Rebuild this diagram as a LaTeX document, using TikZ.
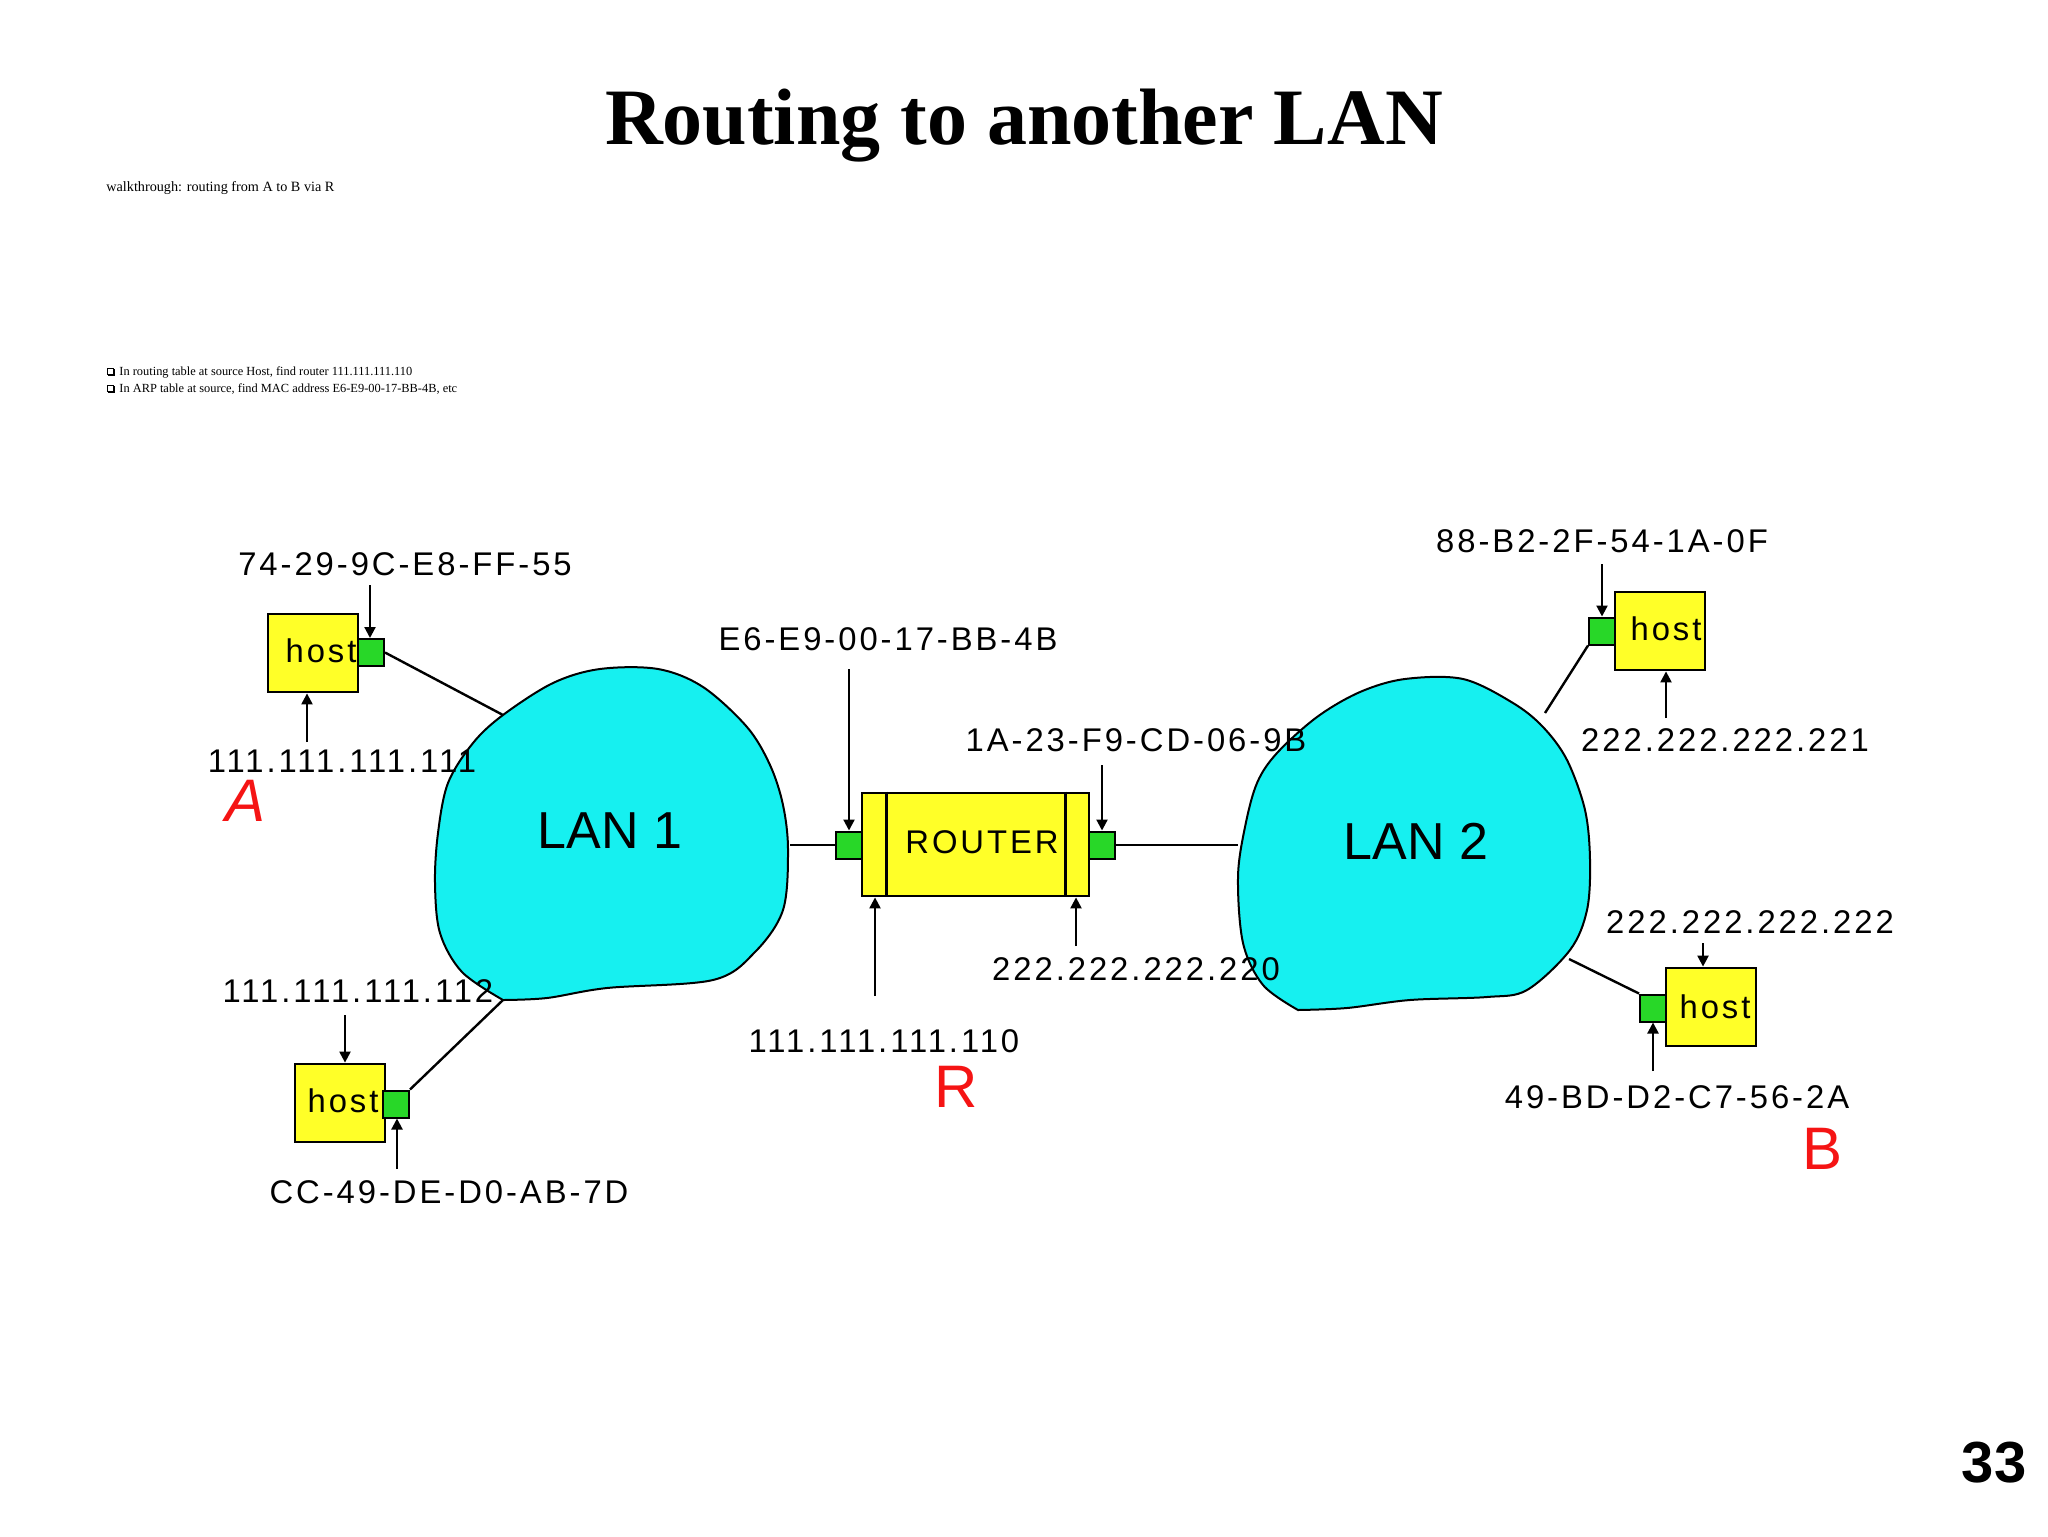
\documentclass[tikz,border=0pt]{standalone}
\usepackage{fontspec}
\setmainfont{Liberation Serif}
\newfontfamily\pixfont[LetterSpace=9]{Liberation Sans}
\newfontfamily\lanfont{Liberation Sans}
\newfontfamily\markfont{Liberation Sans}
\usetikzlibrary{arrows.meta}
\definecolor{lancyan}{RGB}{22,240,240}
\definecolor{hostyellow}{RGB}{255,255,40}
\definecolor{portgreen}{RGB}{40,215,40}
\definecolor{markred}{RGB}{245,20,20}
\tikzset{
  hostbox/.style={draw=black, line width=1.4pt, fill=hostyellow, minimum width=45pt, minimum height=39pt, inner sep=0pt},
  routerbox/.style={draw=black, line width=1.4pt, fill=hostyellow, minimum width=113.5pt, minimum height=51.5pt, inner sep=0pt},
  portbox/.style={draw=black, line width=1pt, fill=portgreen, minimum width=13pt, minimum height=13.5pt, inner sep=0pt},
  lbl/.style={font=\pixfont\fontsize{16.4}{18}\selectfont, inner sep=0pt},
  hosttxt/.style={font=\pixfont\fontsize{16.4}{18}\selectfont, inner sep=0pt},
  lantxt/.style={font=\lanfont\fontsize{26}{28}\selectfont, inner sep=0pt},
  lanblob/.style={draw=black, line width=1pt, fill=lancyan},
  link/.style={line width=1.2pt},
  ptr/.style={line width=1.1pt, -{Triangle[length=5.5pt,width=5.5pt]}},
  redmark/.style={font=\markfont\fontsize{30}{32}\selectfont, text=markred, inner sep=0pt},
  bulletbox/.style={draw=black, line width=0.3pt, minimum size=2.8pt, inner sep=0pt},
}
\begin{document}
\begin{tikzpicture}[x=0.5pt,y=-0.5pt]
\useasboundingbox (0,0) rectangle (2048,1536);
\fill[white] (0,0) rectangle (2048,1536);

% header
\node[anchor=base, inner sep=0pt, font=\bfseries\fontsize{40}{44}\selectfont] (title) at (1024,144) {Routing to another LAN};
\node[anchor=base west, inner sep=0pt, font=\fontsize{7.1}{8}\selectfont] (walk) at (106,191) {walkthrough: routing from A to B via R};
\node[bulletbox] (b1) at (110,371) {};
\draw[line width=0.7pt] ([xshift=0.6pt,yshift=-0.35pt]b1.south west) -- ([xshift=0.35pt,yshift=-0.35pt]b1.south east) -- ([xshift=0.35pt,yshift=-0.6pt]b1.north east);
\node[anchor=base west, inner sep=0pt, font=\fontsize{6.2}{7}\selectfont] (t1) at (119,375) {In routing table at source Host, find router 111.111.111.110};
\node[bulletbox] (b2) at (110,388) {};
\draw[line width=0.7pt] ([xshift=0.6pt,yshift=-0.35pt]b2.south west) -- ([xshift=0.35pt,yshift=-0.35pt]b2.south east) -- ([xshift=0.35pt,yshift=-0.6pt]b2.north east);
\node[anchor=base west, inner sep=0pt, font=\fontsize{6.2}{7}\selectfont] (t2) at (119,392) {In ARP table at source, find MAC address E6-E9-00-17-BB-4B, etc};

\node[font=\lanfont\bfseries\fontsize{29}{30}\selectfont, inner sep=0pt] (pagenum) at (1994,1463) {33};

% LAN blobs (sharp corner at bottom-left)
\draw[lanblob] plot[smooth, tension=0.55] coordinates {(503,1000) (547,998) (607,988) (713,980) (755,952) (783,910) (788,850) (783,805) (770,765) (747,727) (703,687) (658,669) (600,669) (553,683) (503,715) (473,743) (448,783) (438,833) (435,883) (440,933) (462,972) (503,1000)} -- cycle;
\draw[lanblob] plot[smooth, tension=0.55] coordinates {(1298,1010) (1347,1008) (1410,1000) (1487,997) (1527,990) (1570,950) (1587,910) (1590,860) (1585,810) (1567,760) (1543,727) (1513,703) (1463,679) (1405,679) (1360,692) (1317,717) (1277,753) (1257,783) (1245,827) (1238,877) (1243,943) (1263,985) (1298,1010)} -- cycle;
\node[lantxt] (lan1) at (610,831) {LAN 1};
\node[lantxt] (lan2) at (1416,841) {LAN 2};
\coordinate (lan1a) at (503,715);
\coordinate (lan1c) at (503,1000);
\coordinate (lan1r) at (790,845);
\coordinate (lan2l) at (1238,845);
\coordinate (lan2d) at (1545,713);
\coordinate (lan2b) at (1569,959);

% host A (top left)
\node[hostbox] (hostA) at (313,653) {};
\node[hosttxt] (hostAt) at (321,651) {host};
\node[portbox] (portA) at (371,652.5) {};
\draw[link] (portA.east) -- (lan1a);

% host C (bottom left)
\node[hostbox] (hostC) at (340,1103) {};
\node[hosttxt] (hostCt) at (343,1101) {host};
\node[portbox] (portC) at (396,1104) {};
\draw[link] (portC.north east) -- (lan1c);

% router
\node[routerbox] (router) at (975.5,844.5) {};
\draw[line width=1.4pt] ([xshift=13pt]router.north west) -- ([xshift=13pt]router.south west);
\draw[line width=1.4pt] ([xshift=-12.5pt]router.north east) -- ([xshift=-12.5pt]router.south east);
\node[hosttxt] (routert) at (982,842) {ROUTER};
\node[portbox] (portR1) at (849,845) {};
\node[portbox] (portR2) at (1102,845) {};
\draw[link] (lan1r) -- (portR1.west);
\draw[link] (portR2.east) -- (lan2l);

% host D (top right)
\node[hostbox] (hostD) at (1660,631) {};
\node[hosttxt] (hostDt) at (1666,629) {host};
\node[portbox] (portD) at (1602,631) {};
\draw[link] (portD.south west) -- (lan2d);

% host B (bottom right)
\node[hostbox] (hostB) at (1711,1007) {};
\node[hosttxt] (hostBt) at (1715,1007) {host};
\node[portbox] (portB) at (1653,1008) {};
\draw[link] (portB.north west) -- (lan2b);

% labels
\node[lbl] (macA) at (405,564) {74-29-9C-E8-FF-55};
\node[lbl] (ipA) at (342,761) {111.111.111.111};
\node[lbl] (ipC) at (358,991) {111.111.111.112};
\node[lbl] (macC) at (449,1192) {CC-49-DE-D0-AB-7D};
\node[lbl] (macR1) at (888,639) {E6-E9-00-17-BB-4B};
\node[lbl] (macR2) at (1136,740) {1A-23-F9-CD-06-9B};
\node[lbl] (ipR1) at (884,1041) {111.111.111.110};
\node[lbl] (ipR2) at (1136,969) {222.222.222.220};
\node[lbl] (macD) at (1602,541) {88-B2-2F-54-1A-0F};
\node[lbl] (ipD) at (1725,740) {222.222.222.221};
\node[lbl] (ipB) at (1750,922) {222.222.222.222};
\node[lbl] (macB) at (1677,1097) {49-BD-D2-C7-56-2A};

% pointer arrows
\coordinate (pA1) at (370,585);
\coordinate (pA2) at (307,742);
\coordinate (pC1) at (345,1015);
\coordinate (pC2) at (397,1169);
\coordinate (pR1) at (849,669);
\coordinate (pR2) at (1102,765);
\coordinate (pR3) at (875,996);
\coordinate (pR4) at (1076,946);
\coordinate (pD1) at (1602,564);
\coordinate (pD2) at (1666,718);
\coordinate (pB1) at (1703,943);
\coordinate (pB2) at (1653,1071);
\draw[ptr] (pA1) -- (pA1 |- portA.north);
\draw[ptr] (pA2) -- (pA2 |- hostA.south);
\draw[ptr] (pC1) -- (pC1 |- hostC.north);
\draw[ptr] (pC2) -- (pC2 |- portC.south);
\draw[ptr] (pR1) -- (pR1 |- portR1.north);
\draw[ptr] (pR2) -- (pR2 |- portR2.north);
\draw[ptr] (pR3) -- (pR3 |- router.south);
\draw[ptr] (pR4) -- (pR4 |- router.south);
\draw[ptr] (pD1) -- (pD1 |- portD.north);
\draw[ptr] (pD2) -- (pD2 |- hostD.south);
\draw[ptr] (pB1) -- (pB1 |- hostB.north);
\draw[ptr] (pB2) -- (pB2 |- portB.south);

% red marks
\node[redmark, font=\markfont\itshape\fontsize{30}{32}\selectfont] (markA) at (246,801) {A};
\node[redmark] (markR) at (956,1087) {R};
\node[redmark] (markB) at (1822,1149) {B};
\end{tikzpicture}
\end{document}
